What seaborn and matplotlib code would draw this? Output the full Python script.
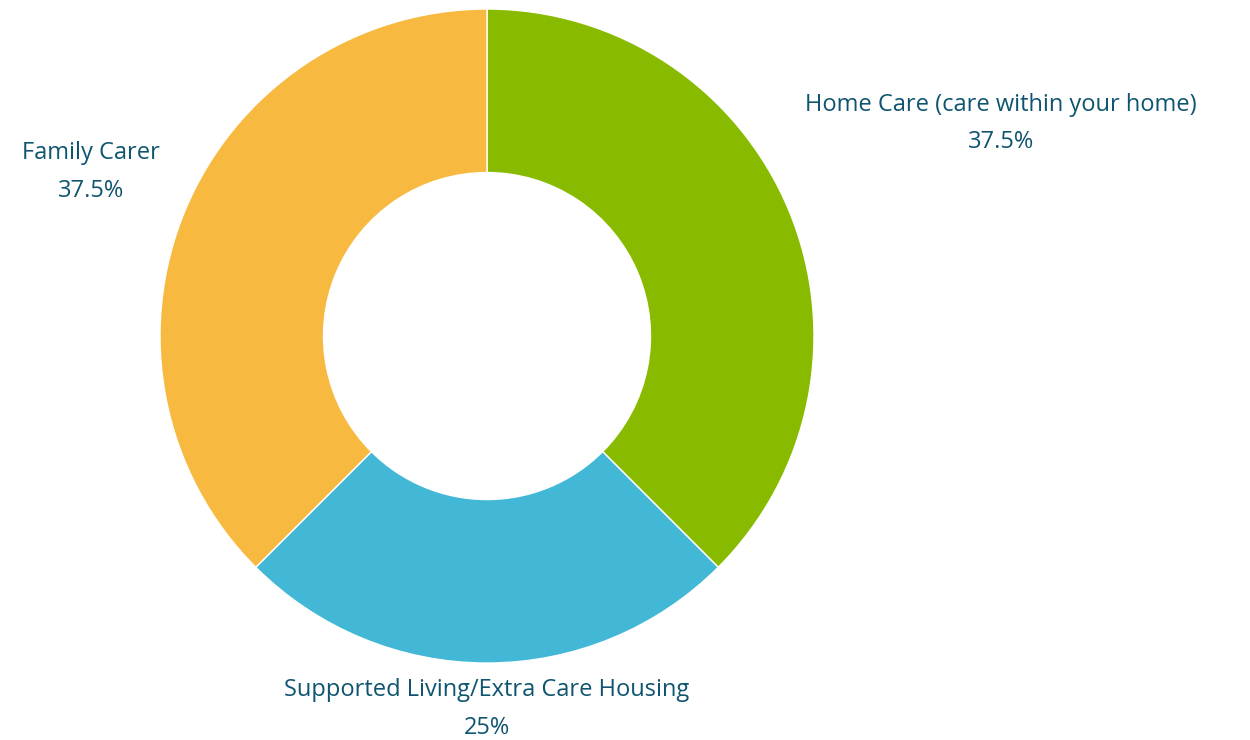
import numpy as np
import matplotlib
matplotlib.use("Agg")
import matplotlib.pyplot as plt
import seaborn as sns

categories = ["Home Care (care within your home)", "Supported Living/Extra Care Housing", "Family Carer"]
values = [37.5, 25, 37.5]
value_labels = ["37.5%", "25%", "37.5%"]
colors = ["#88bb00", "#42b8d6", "#f8b940"]
label_dist = [1.70, 1.14, 1.31]  # label distance from centre, in radius units

sns.set_theme(style="white")
plt.rcParams['font.family'] = ['Open Sans', 'DejaVu Sans']
text_color = "#0f5570"

fig = plt.figure(figsize=(12.5, 7.4), dpi=100)
ax = fig.add_axes([0.128, 0.104, 0.5232, 0.8838])

wedges, _ = ax.pie(values, colors=colors, startangle=90, counterclock=False,
                   wedgeprops=dict(width=0.5, edgecolor="white", linewidth=1))

for w, name, pct, d in zip(wedges, categories, value_labels, label_dist):
    mid = np.deg2rad((w.theta1 + w.theta2) / 2)
    ax.text(d * np.cos(mid), d * np.sin(mid), f"{name}\n{pct}",
            ha="center", va="center", fontsize=17, color=text_color,
            linespacing=1.75, clip_on=False)

ax.set_xlim(-1, 1)
ax.set_ylim(-1, 1)
ax.set_aspect("equal")
ax.axis("off")

fig.savefig("out.png", dpi=100)
